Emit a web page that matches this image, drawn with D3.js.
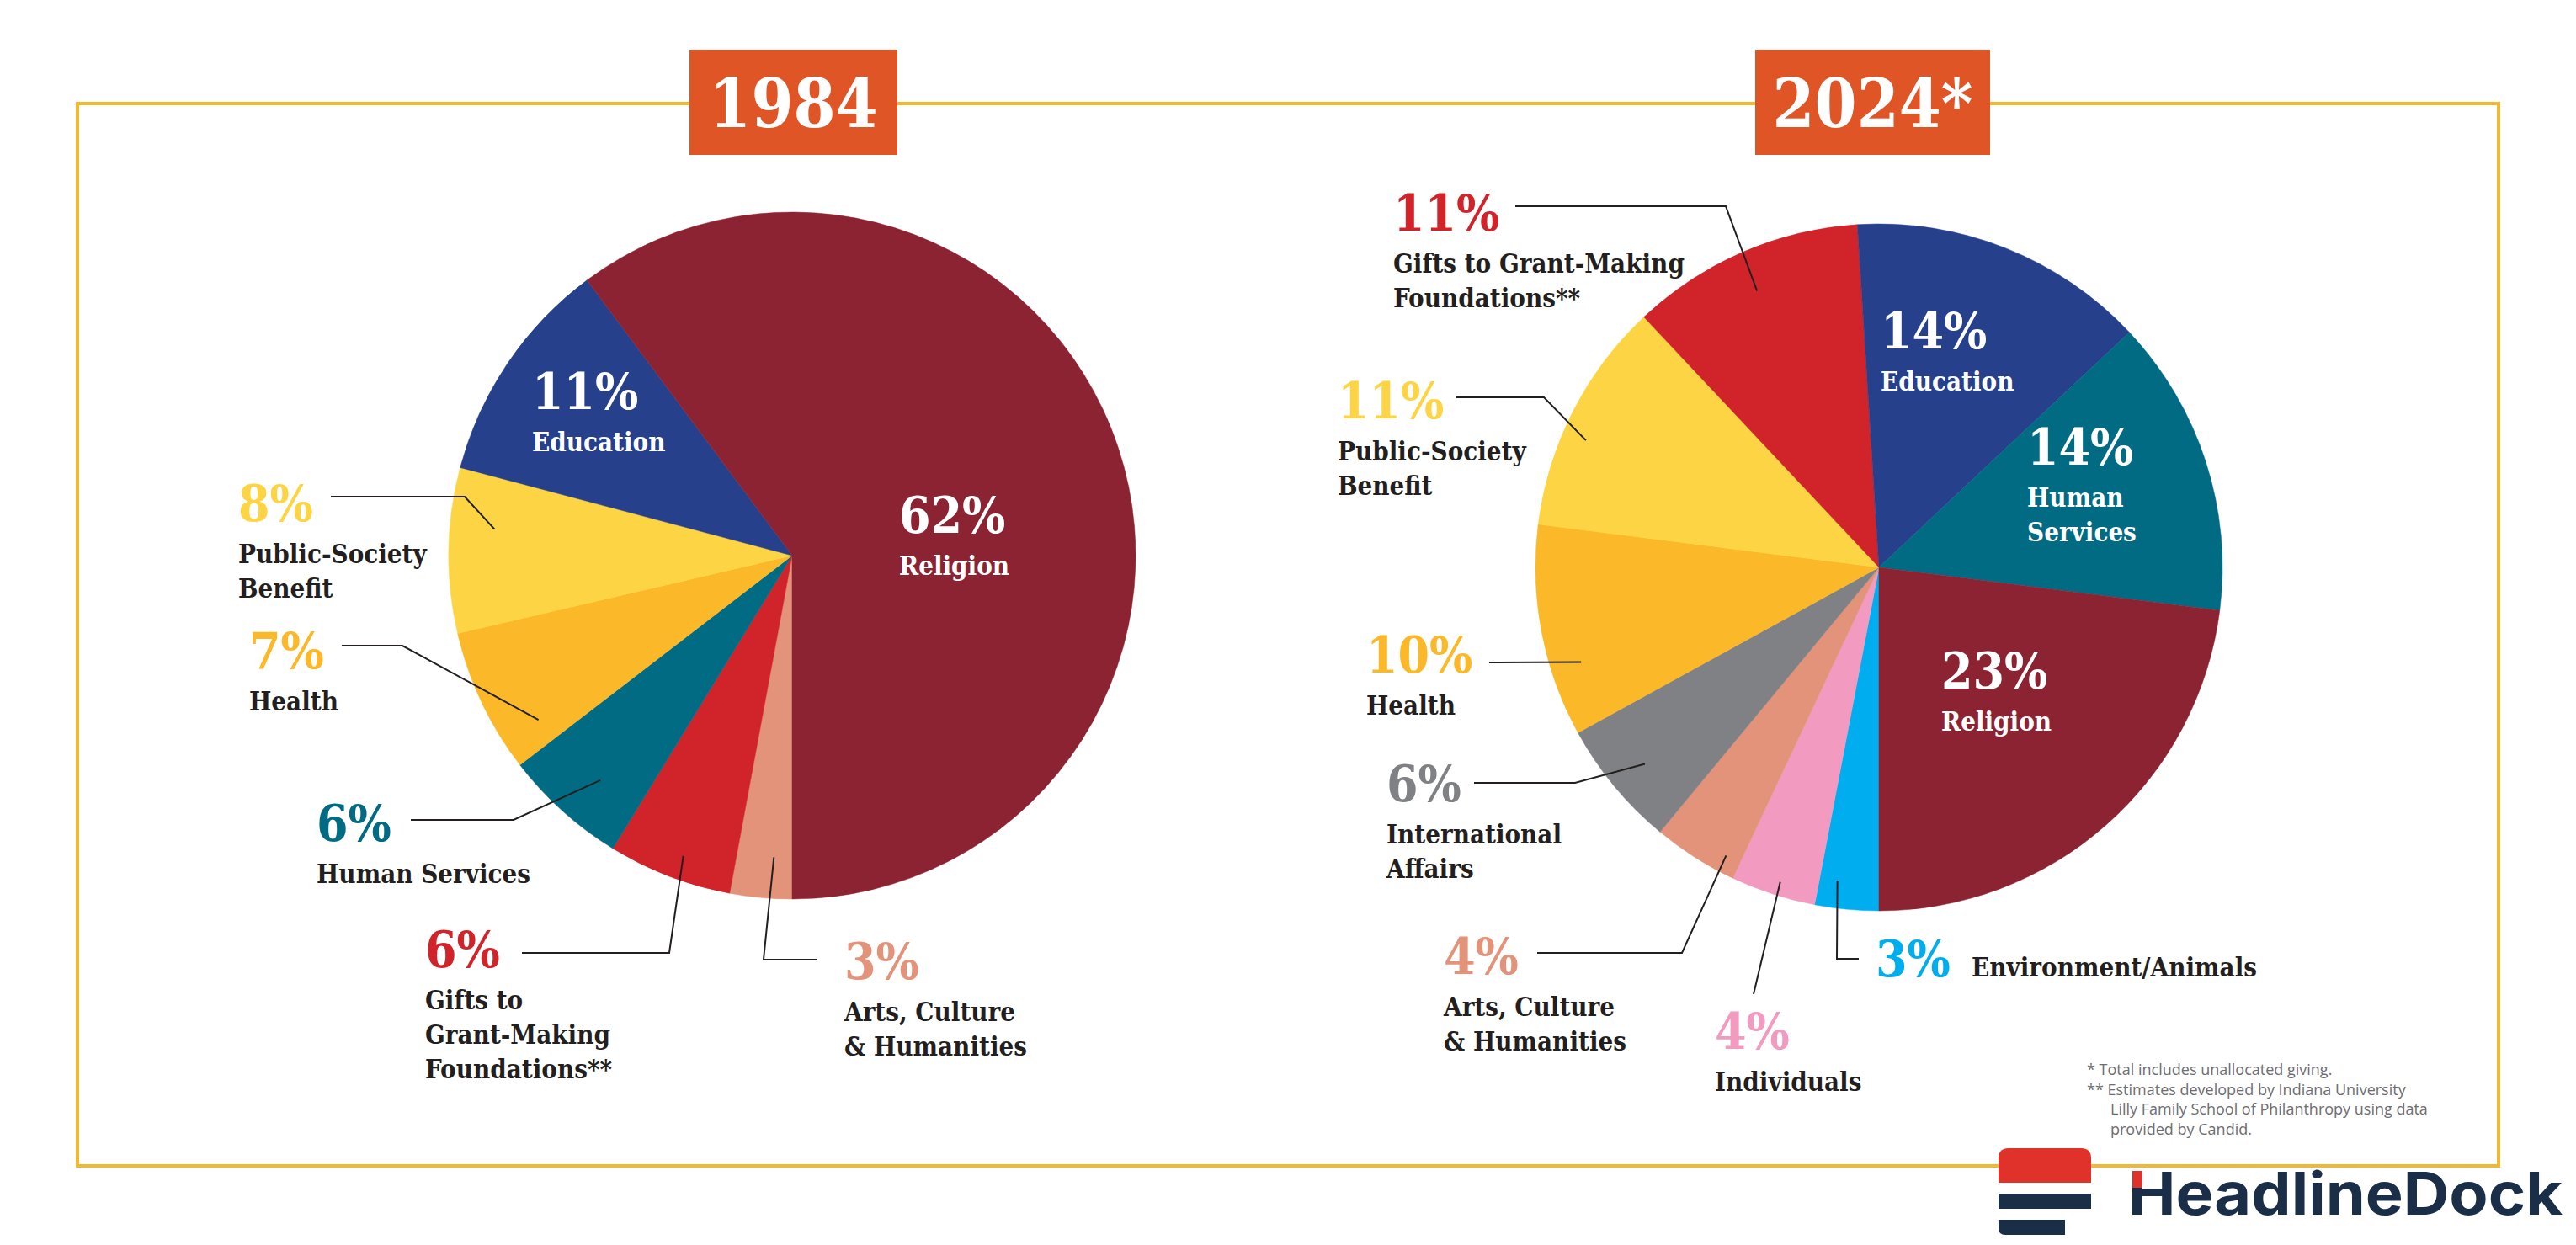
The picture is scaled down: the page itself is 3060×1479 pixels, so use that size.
<!DOCTYPE html>
<html>
<head>
<meta charset="utf-8">
<script src="https://cdn.jsdelivr.net/npm/d3@7"></script>
<style>
  html, body { margin: 0; padding: 0; background: #fff; }
  svg { display: block; }
  .slab { font-family: "DejaVu Serif Condensed", "DejaVu Serif", serif; font-stretch: condensed; font-weight: bold; }
  .pct { font-size: 60px; }
  .lbl { font-size: 31px; fill: #231f20; }
  .lbl.inside { fill: #fff; }
  .title { font-size: 80px; fill: #fff; }
  .note { font-family: "Open Sans", sans-serif; font-size: 18px; fill: #6d6e71; }
  .logo { font-family: Inter, "Open Sans", sans-serif; font-weight: 700; font-size: 70px; fill: #1b2e48; }
</style>
</head>
<body>
<svg class="chart"></svg>
<script>
// data, clockwise from 6 o'clock
const categories1984 = ['Arts, Culture & Humanities', 'Gifts to Grant-Making Foundations**', 'Human Services', 'Health', 'Public-Society Benefit', 'Education', 'Religion']
const values1984 = [3, 6, 6, 7, 8, 11, 62]

const categories2024 = ['Environment/Animals', 'Individuals', 'Arts, Culture & Humanities', 'International Affairs', 'Health', 'Public-Society Benefit', 'Gifts to Grant-Making Foundations**', 'Education', 'Human Services', 'Religion']
const values2024 = [3, 4, 4, 6, 10, 11, 11, 14, 14, 23]

const allCategories = ['Religion', 'Education', 'Public-Society Benefit', 'Health', 'Human Services', 'Gifts to Grant-Making Foundations**', 'Arts, Culture & Humanities', 'International Affairs', 'Individuals', 'Environment/Animals']
const palette = ['#8b2332', '#26408b', '#fdd443', '#fbb829', '#026b84', '#d1232a', '#e3937a', '#808184', '#f29ac0', '#00aeef']

const notes = [
  ['* Total includes unallocated giving.', 0],
  ['** Estimates developed by Indiana University', 0],
  ['Lilly Family School of Philanthropy using data', 28],
  ['provided by Candid.', 28],
]

// label placement, relative to pie centre
const layout1984 = {
  'Education': { inside: true, x: -309, y: -174, lines: ['Education'] },
  'Religion': { inside: true, x: 127, y: -27, lines: ['Religion'] },
  'Public-Society Benefit': { x: -658, y: -41, lines: ['Public-Society', 'Benefit'], lead: [-548, -70], elbow: -389, t: 0.65, r: 0.87 },
  'Health': { x: -645, y: 134, lines: ['Health'], lead: [-535, 107], elbow: -463, t: 0.19, r: 0.88 },
  'Human Services': { x: -565, y: 339, lines: ['Human Services'], lead: [-453, 314], elbow: -331, t: 0.43, r: 0.86 },
  'Gifts to Grant-Making Foundations**': { x: -436, y: 489, lines: ['Gifts to', 'Grant-Making', 'Foundations**'], lead: [-321, 472], elbow: -146, t: 0.45, r: 0.93 },
  'Arts, Culture & Humanities': { x: 62, y: 503, lines: ['Arts, Culture', '& Humanities'], lead: [29, 480], elbow: -34, t: 0.33, r: 0.88 },
}

const layout2024 = {
  'Gifts to Grant-Making Foundations**': { x: -577, y: -400, lines: ['Gifts to Grant-Making', 'Foundations**'], lead: [-432, -429], elbow: -182, t: 0.49, r: 0.88 },
  'Education': { inside: true, x: 2, y: -260, lines: ['Education'] },
  'Human Services': { inside: true, x: 176, y: -122, lines: ['Human', 'Services'] },
  'Public-Society Benefit': { x: -643, y: -177, lines: ['Public-Society', 'Benefit'], lead: [-502, -202], elbow: -398, t: 0.41, r: 0.93 },
  'Health': { x: -609, y: 125, lines: ['Health'], lead: [-463, 113], t: 0.31, r: 0.91 },
  'Religion': { inside: true, x: 74, y: 144, lines: ['Religion'] },
  'International Affairs': { x: -585, y: 278, lines: ['International', 'Affairs'], lead: [-481, 256], elbow: -361, t: 0.48, r: 0.89 },
  'Arts, Culture & Humanities': { x: -517, y: 483, lines: ['Arts, Culture', '& Humanities'], lead: [-406, 458], elbow: -234, t: 0.19, r: 0.95 },
  'Individuals': { x: -195, y: 572, lines: ['Individuals'], lead: [-149, 507], t: 0.46, r: 0.96 },
  'Environment/Animals': { x: -4, y: 486, inline: 110, lines: ['Environment/Animals'], lead: [-24, 465], elbow: -50, t: 0.70, r: 0.92 },
}

const W = 3060
const H = 1479
const R = 408

const color = d3.scaleOrdinal().domain(allCategories).range(palette)

const svg = d3.select('.chart')
  .attr('width', W)
  .attr('height', H)

svg.append('rect').attr('width', W).attr('height', H).attr('fill', '#fff')

// frame
svg.append('rect')
  .attr('x', 92).attr('y', 123)
  .attr('width', 2876).attr('height', 1262)
  .attr('fill', 'none')
  .attr('stroke', '#f4b731')
  .attr('stroke-width', 4)

const charts = [
  { title: '1984', categories: categories1984, values: values1984, layout: layout1984, cx: 941, cy: 660, box: [819, 1066] },
  { title: '2024*', categories: categories2024, values: values2024, layout: layout2024, cx: 2232, cy: 674, box: [2085, 2364] },
]

const pie = d3.pie().sort(null).value(d => d.value).startAngle(Math.PI).endAngle(3 * Math.PI)
const arc = d3.arc().innerRadius(0).outerRadius(R)

charts.forEach((c) => {
  // title box
  svg.append('rect')
    .attr('x', c.box[0]).attr('y', 59)
    .attr('width', c.box[1] - c.box[0]).attr('height', 125)
    .attr('fill', '#e05526')
  svg.append('text')
    .attr('class', 'slab title')
    .attr('x', (c.box[0] + c.box[1]) / 2)
    .attr('y', 151)
    .attr('text-anchor', 'middle')
    .text(c.title)

  const data = c.categories.map((name, i) => ({ name, value: c.values[i] }))
  const arcs = pie(data)
  const g = svg.append('g').attr('transform', `translate(${c.cx},${c.cy})`)

  g.selectAll('path.slice')
    .data(arcs)
    .enter()
    .append('path')
    .attr('class', 'slice')
    .attr('d', arc)
    .attr('fill', d => color(d.data.name))
    .attr('stroke', d => color(d.data.name))
    .attr('stroke-width', 0.5)

  arcs.forEach((d) => {
    const L = c.layout[d.data.name]
    if (!L) return

    if (L.lead) {
      const a = d.startAngle + L.t * (d.endAngle - d.startAngle)
      const end = [Math.sin(a) * R * L.r, -Math.cos(a) * R * L.r]
      const pts = [L.lead]
      if (L.elbow !== undefined) pts.push([L.elbow, L.lead[1]])
      pts.push(end)
      g.append('path')
        .attr('d', d3.line()(pts))
        .attr('fill', 'none')
        .attr('stroke', '#231f20')
        .attr('stroke-width', 2)
    }

    g.append('text')
      .attr('class', 'slab pct')
      .attr('x', L.x)
      .attr('y', L.y)
      .attr('fill', L.inside ? '#fff' : color(d.data.name))
      .text(`${d.data.value}%`)

    if (L.inline !== undefined) {
      g.append('text')
        .attr('class', 'slab lbl')
        .attr('x', L.inline)
        .attr('y', L.y)
        .text(L.lines[0])
      return
    }

    g.append('text')
      .attr('class', `slab lbl${L.inside ? ' inside' : ''}`)
      .selectAll('tspan')
      .data(L.lines)
      .enter()
      .append('tspan')
      .attr('x', L.x)
      .attr('y', (line, i) => L.y + 50 + i * 41)
      .text(line => line)
  })
})

// footnotes
svg.append('g')
  .selectAll('text')
  .data(notes)
  .enter()
  .append('text')
  .attr('class', 'note')
  .attr('x', d => 2479 + d[1])
  .attr('y', (d, i) => 1277 + i * 23.5)
  .text(d => d[0])

// logo
const logo = svg.append('g')
logo.append('path')
  .attr('d', 'M2374,1405 V1376 Q2374,1364 2386,1364 H2472 Q2484,1364 2484,1376 V1405 Z')
  .attr('fill', '#e0312a')
logo.append('rect').attr('x', 2374).attr('y', 1418).attr('width', 110).attr('height', 18).attr('fill', '#1b2e48')
logo.append('path')
  .attr('d', 'M2374,1449 H2453 V1467 H2382 Q2374,1467 2374,1459 Z')
  .attr('fill', '#1b2e48')
const word = logo.append('text')
  .attr('class', 'logo')
  .attr('x', 2528)
  .attr('y', 1443)
  .attr('textLength', 516)
  .attr('lengthAdjust', 'spacingAndGlyphs')
  .text('HeadlineDock')
const hBox = word.node().getExtentOfChar(0)
logo.append('rect')
  .attr('x', hBox.x + hBox.width * 0.09)
  .attr('y', 1391)
  .attr('width', hBox.width * 0.2)
  .attr('height', 20)
  .attr('fill', '#e0312a')
</script>
</body>
</html>
